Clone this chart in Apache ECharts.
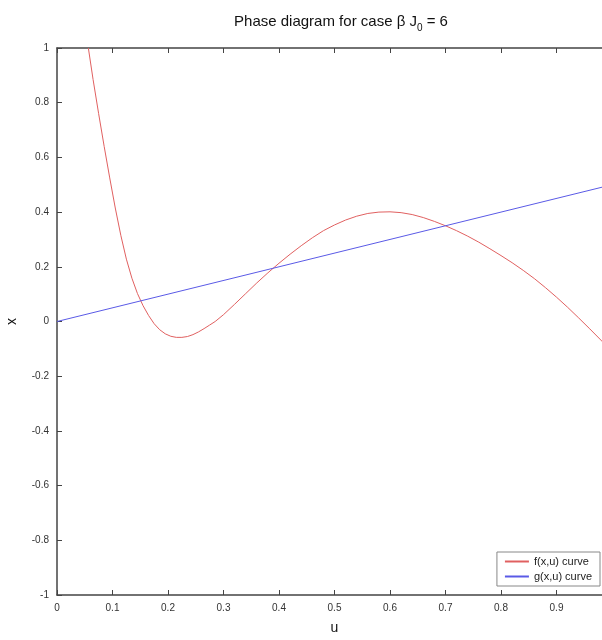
<!DOCTYPE html>
<html>
<head>
<meta charset="utf-8">
<script src="https://cdn.jsdelivr.net/npm/echarts@6/dist/echarts.min.js"></script>
<style>html,body{margin:0;padding:0;background:#fff;}#c{width:602px;height:640px;}</style>
</head>
<body>
<div id="c"></div>
<script>
var fU = [0.0565,0.065,0.075,0.085,0.095,0.105,0.115,0.125,0.135,0.145,0.155,0.165,0.175,0.185,0.195,0.205,0.215,0.225,0.235,0.245,0.255,0.265,0.275,0.285,0.30,0.32,0.34,0.36,0.38,0.40,0.42,0.44,0.46,0.48,0.50,0.52,0.54,0.56,0.58,0.60,0.62,0.64,0.66,0.68,0.70,0.72,0.74,0.76,0.78,0.80,0.82,0.84,0.86,0.88,0.90,0.92,0.94,0.96,0.98,1.0];
var fX = [1.0,0.885,0.76,0.64,0.525,0.415,0.315,0.228,0.158,0.102,0.058,0.022,-0.008,-0.03,-0.045,-0.054,-0.058,-0.058,-0.055,-0.048,-0.038,-0.026,-0.013,0.0,0.025,0.063,0.102,0.141,0.178,0.213,0.246,0.277,0.306,0.332,0.353,0.371,0.385,0.395,0.40,0.401,0.398,0.391,0.38,0.366,0.35,0.332,0.312,0.29,0.266,0.241,0.215,0.187,0.157,0.124,0.089,0.052,0.013,-0.027,-0.068,-0.11];
var gU = [0, 1];
var gX = [0, 0.5];
var xTicks = [0,0.1,0.2,0.3,0.4,0.5,0.6,0.7,0.8,0.9,1];
var yTicks = [-1,-0.8,-0.6,-0.4,-0.2,0,0.2,0.4,0.6,0.8,1];
var seriesNames = ['f(x,u) curve', 'g(x,u) curve'];

function pairs(a, b) { return a.map(function (v, i) { return [v, b[i]]; }); }

var chart = echarts.init(document.getElementById('c'), null, {renderer: 'canvas'});
var axisCol = '#444';
var font = 'Liberation Sans, Arial, sans-serif';
chart.setOption({
  animation: false,
  backgroundColor: '#fff',
  title: {
    text: '{a|Phase diagram for case β J}{s|0}{a| = 6}',
    left: 336, top: 6, textAlign: 'center',
    textStyle: {
      fontWeight: 'normal',
      rich: {
        a: {fontSize: 15, color: '#111', fontFamily: font, fontWeight: 'normal'},
        s: {fontSize: 10, color: '#111', fontFamily: font, fontWeight: 'normal', verticalAlign: 'bottom', padding: [12, 0, 0, 0]}
      }
    }
  },
  grid: {left: 57, right: -10, top: 48, bottom: 45, containLabel: false, outerBoundsMode: 'none'},
  legend: {
    data: seriesNames,
    orient: 'vertical',
    right: 2, bottom: 54,
    itemWidth: 24, itemHeight: 2, itemGap: 4,
    icon: 'rect',
    borderColor: '#888', borderWidth: 1, borderRadius: 0,
    padding: [4, 8, 4, 8],
    backgroundColor: '#fff',
    textStyle: {fontSize: 11, color: '#222', fontFamily: font}
  },
  xAxis: [{
    type: 'value', min: 0, max: 1, interval: 0.1,
    name: 'u', nameLocation: 'middle', nameGap: 26,
    nameTextStyle: {fontSize: 14, color: '#111', fontFamily: font},
    axisLine: {show: true, onZero: false, lineStyle: {color: axisCol, width: 1.5}},
    axisTick: {show: true, inside: true, length: 5, lineStyle: {color: axisCol}},
    axisLabel: {fontSize: 10, color: '#333', fontFamily: font, margin: 8},
    splitLine: {show: false}
  }, {
    type: 'value', min: 0, max: 1, interval: 0.1, position: 'top',
    axisLine: {show: true, onZero: false, lineStyle: {color: axisCol, width: 1.5}},
    axisTick: {show: true, inside: true, length: 5, lineStyle: {color: axisCol}},
    axisLabel: {show: false},
    splitLine: {show: false}
  }],
  yAxis: [{
    type: 'value', min: -1, max: 1, interval: 0.2,
    name: 'x', nameLocation: 'middle', nameGap: 38, nameRotate: 90,
    nameTextStyle: {fontSize: 14, color: '#111', fontFamily: font},
    axisLine: {show: true, onZero: false, lineStyle: {color: axisCol, width: 1.5}},
    axisTick: {show: true, inside: true, length: 5, lineStyle: {color: axisCol}},
    axisLabel: {fontSize: 10, color: '#333', fontFamily: font, margin: 8},
    splitLine: {show: false}
  }],
  series: [{
    name: seriesNames[0], type: 'line', showSymbol: false, symbol: 'none', smooth: false,
    clip: true,
    data: pairs(fU, fX),
    lineStyle: {color: '#e06060', width: 1},
    itemStyle: {color: '#e06060'}
  }, {
    name: seriesNames[1], type: 'line', showSymbol: false, symbol: 'none',
    clip: true,
    data: pairs(gU, gX),
    lineStyle: {color: '#5a5ae6', width: 1},
    itemStyle: {color: '#5a5ae6'}
  }]
});
</script>
</body>
</html>
